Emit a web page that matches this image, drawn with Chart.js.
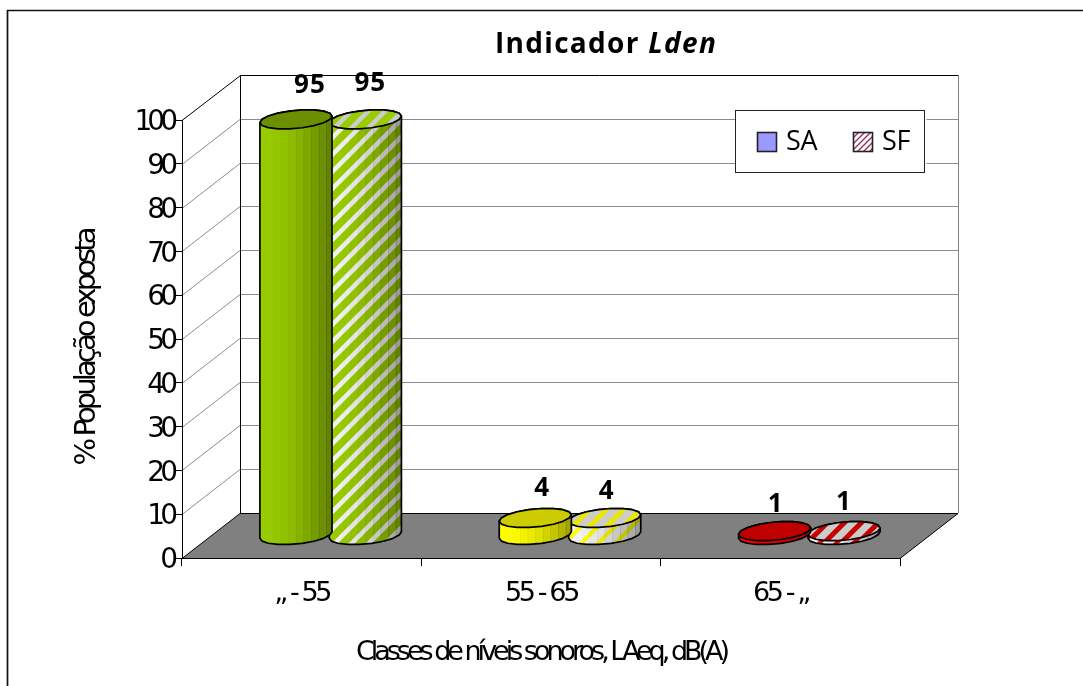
<!DOCTYPE html>
<html><head><meta charset="utf-8">
<style>html,body{margin:0;padding:0;background:#fff}canvas{display:block}</style>
<script src="https://cdn.jsdelivr.net/npm/chart.js@4"></script>
</head><body>
<canvas id="c" width="1083" height="686"></canvas>
<script>
const categories = ['„ - 55', '55 - 65', '65 - „'];
const seriesSA = [95, 4, 1];
const seriesSF = [95, 4, 1];
const pointColors = ['#99CC00', '#FFFF00', '#FF0000'];
const capColors = ['#6B8F00', '#CCCC00', '#C00000'];
const capStripeColors = ['#CCCCCC', '#E8E800', '#C80000'];
const stripeWidths = [4.5, 8, 8];
const legendSwatchSA = '#9999FF';
const legendSwatchSF = '#993366';
const yTicks = [0,10,20,30,40,50,60,70,80,90,100];
const labelNudgeSA = [[14,-34],[7,-29],[1,-27]];
const labelNudgeSF = [[5,-36],[2,-26],[0,-29]];

const depth = {dx:58, dy:-45};
function stripes(ctx,x0,x1,y0,y1,color,lw){
  ctx.save();ctx.strokeStyle=color;ctx.lineWidth=lw;
  const period=17;const h=y1-y0;
  const start=Math.floor((x0-h)/period)*period;
  for(let X=start;X<x1+period;X+=period){
    ctx.beginPath();ctx.moveTo(X,y1);ctx.lineTo(X+h,y0);ctx.stroke();}
  ctx.restore();
}
function ellipsePath(ctx,cx,cy,r,kx,ky,from,to,move){
  const N=9;
  for(let i=0;i<=N;i++){const t=from+(to-from)*i/N;
    const x=cx+r*Math.cos(t)+kx*Math.sin(t),y=cy+ky*Math.sin(t);
    if(i===0&&move)ctx.moveTo(x,y);else ctx.lineTo(x,y);}
}
function cylinder(ctx,el,i,striped){
  const color=pointColors[i];
  const cx=el.x+depth.dx/2, top=el.y+depth.dy/2, base=el.base+depth.dy/2;
  const r=34,kx=12,ky=-9.6;
  const side=Math.sqrt(r*r+kx*kx);
  const a=Math.atan2(kx,r);
  const body=()=>{ctx.beginPath();
    ellipsePath(ctx,cx,base,r,kx,ky,a+Math.PI,a+2*Math.PI,true);
    ellipsePath(ctx,cx,top,r,kx,ky,a,a+Math.PI,false);
    ctx.closePath();};
  const cap=()=>{ctx.beginPath();ellipsePath(ctx,cx,top,r,kx,ky,a,a+Math.PI,true);
    ellipsePath(ctx,cx,top,r,kx,ky,a+Math.PI,a+2*Math.PI,false);ctx.closePath();};
  ctx.save();
  body();
  ctx.save();ctx.clip();
  const L=cx-side-2,W=2*side+4,n=10,T=top-20,H=base-top+40;
  ctx.fillStyle=color;ctx.fillRect(L,T,W,H);
  if(striped) stripes(ctx,L,L+W,T,T+H,'#F2F2F2',stripeWidths[i]);
  ctx.globalCompositeOperation='multiply';
  for(let k=0;k<n;k++){const u=k/(n-1);
    const v=Math.round(255*(1-Math.pow(u,1.8)*0.36));
    ctx.fillStyle=`rgb(${v},${v},${v})`;
    ctx.fillRect(L+W*k/n,T,W/n+0.5,H);}
  ctx.restore();
  ctx.strokeStyle='#000';ctx.lineWidth=1.7;ctx.lineJoin='round';
  body();ctx.stroke();
  cap();
  ctx.save();ctx.clip();
  ctx.fillStyle=striped?color:capColors[i];
  if(striped&&i>0)ctx.fillStyle='#CCCCCC';
  ctx.fillRect(L,top-20,W,40);
  if(striped) stripes(ctx,L,L+W,top-20,top+20,capStripeColors[i],i>0?5:stripeWidths[i]);
  ctx.restore();
  cap();ctx.stroke();
  ctx.restore();
}
function spacing(scale,method,sp,dy){
  const proto=Object.getPrototypeOf(scale)[method];
  scale[method]=function(...args){
    const c=this.ctx,prev=c.letterSpacing;
    c.save();c.letterSpacing=sp;c.translate(0,dy||0);
    proto.apply(this,args);
    c.restore();c.letterSpacing=prev;
  };
}
let patched=false;
const scene={
  id:'scene',
  beforeDraw(chart){
    const {ctx,chartArea:a,scales:{x:xs,y}}=chart;
    if(!patched){patched=true;
      spacing(y,'drawTitle','-3.9px',9);
      spacing(y,'drawLabels','-5px',3);
      spacing(xs,'drawLabels','-3.4px',0);
      spacing(xs,'drawTitle','-4px',2);
    }
    const d=depth;
    ctx.save();
    ctx.fillStyle='#fff';ctx.fillRect(0,0,chart.width,chart.height);
    ctx.strokeStyle='#111';ctx.lineWidth=1.7;
    ctx.beginPath();ctx.moveTo(7.5,686);ctx.lineTo(7.5,10.5);ctx.lineTo(1083,10.5);ctx.stroke();
    ctx.lineWidth=1;
    ctx.strokeStyle='#8C8C8C';
    yTicks.forEach(v=>{ if(v===0||v===100)return;
      const p=Math.round(y.getPixelForValue(v))+.5;
      ctx.beginPath();ctx.moveTo(a.left,p);ctx.lineTo(a.left+d.dx,p+d.dy);ctx.lineTo(a.right+d.dx,p+d.dy);ctx.stroke();});
    const top=y.getPixelForValue(100), bot=y.getPixelForValue(0);
    ctx.strokeStyle='#000';
    ctx.beginPath();ctx.moveTo(a.left,top+.5);ctx.lineTo(a.left+d.dx+.5,top+d.dy+.5);ctx.lineTo(a.right+d.dx,top+d.dy+.5);ctx.stroke();
    ctx.beginPath();ctx.moveTo(a.left+d.dx+.5,top+d.dy);ctx.lineTo(a.left+d.dx+.5,bot+d.dy);ctx.stroke();
    ctx.strokeStyle='#808080';
    ctx.beginPath();ctx.moveTo(a.right+d.dx+.5,top+d.dy);ctx.lineTo(a.right+d.dx+.5,bot+d.dy);ctx.stroke();
    ctx.fillStyle='#808080';ctx.strokeStyle='#000';
    ctx.beginPath();ctx.moveTo(a.left,bot+.5);ctx.lineTo(a.left+d.dx,bot+d.dy+.5);ctx.lineTo(a.right+d.dx,bot+d.dy+.5);ctx.lineTo(a.right,bot+.5);ctx.closePath();ctx.fill();ctx.stroke();
    ctx.restore();
  },
  beforeDatasetDraw(chart,args){
    const {ctx}=chart;
    args.meta.data.forEach((el,i)=>cylinder(ctx,el,i,args.index===1));
    return false;
  },
  afterDatasetsDraw(chart){
    const {ctx}=chart;
    ctx.save();
    ctx.fillStyle='#000';ctx.textAlign='center';ctx.textBaseline='middle';
    ctx.letterSpacing='1px';
    ctx.font='bold 26px "Open Sans"';
    [labelNudgeSA,labelNudgeSF].forEach((nudge,k)=>{
      const ds=chart.data.datasets[k];
      chart.getDatasetMeta(k).data.forEach((el,i)=>{
        ctx.fillText(String(ds.data[i]),el.x+depth.dx/2+nudge[i][0],el.y+depth.dy/2+nudge[i][1]);
      });
    });
    ctx.textAlign='left';ctx.textBaseline='alphabetic';ctx.letterSpacing='1.3px';
    ctx.font='bold 28px "Open Sans"';
    const t1='Indicador ',t2='Lden';
    const w1=ctx.measureText(t1).width;
    ctx.fillText(t1,495,53);
    ctx.font='italic bold 28px "Open Sans"';
    ctx.fillText(t2,495+w1,53);
    ctx.letterSpacing='0px';
    const x=735.5,y=110.5,w=189,h=62;
    ctx.fillStyle='#fff';ctx.fillRect(x,y,w+2,h+1);
    ctx.strokeStyle='#222';ctx.lineWidth=1;ctx.strokeRect(x,y,w,h);
    ctx.lineWidth=1.6;
    ctx.fillStyle=legendSwatchSA;ctx.fillRect(757.5,132.5,19,19);ctx.strokeRect(757.5,132.5,19,19);
    ctx.save();ctx.beginPath();ctx.rect(853.5,132.5,19,19);ctx.clip();
    ctx.fillStyle='#fff';ctx.fillRect(853,132,20,20);
    ctx.strokeStyle=legendSwatchSF;ctx.lineWidth=1.4;
    for(let k=-20;k<24;k+=6){ctx.beginPath();ctx.moveTo(853+k,152);ctx.lineTo(853+k+20,132);ctx.stroke();}
    ctx.restore();
    ctx.strokeStyle='#222';ctx.lineWidth=1.6;ctx.strokeRect(853.5,132.5,19,19);
    ctx.fillStyle='#000';ctx.font='27px "Open Sans"';
    ctx.letterSpacing='-0.3px';
    ctx.fillText(chart.data.datasets[0].label,786,150);
    ctx.fillText(chart.data.datasets[1].label,882,150);
    ctx.restore();
  }
};
new Chart(document.getElementById('c'),{
  type:'bar',
  data:{labels:categories,datasets:[
    {label:'SA',data:seriesSA,backgroundColor:pointColors},
    {label:'SF',data:seriesSF,backgroundColor:pointColors}
  ]},
  options:{
    responsive:false,animation:false,
    devicePixelRatio:1,
    layout:{padding:{left:70,right:183,top:120,bottom:19}},
    plugins:{legend:{display:false},title:{display:false},tooltip:{enabled:false}},
    datasets:{bar:{categoryPercentage:0.58,barPercentage:1}},
    scales:{
      x:{
        grid:{drawOnChartArea:false,drawTicks:true,tickLength:8,color:'#000',offset:true},
        border:{color:'#000'},
        ticks:{color:'#000',padding:12,font:{family:'"DejaVu Sans"',size:27},maxRotation:0},
        title:{display:true,text:'Classes de níveis sonoros, LAeq, dB(A)',color:'#000',font:{family:'"DejaVu Sans"',size:27},padding:0},
        afterFit(s){s.height=109;}
      },
      y:{
        min:0,max:100,
        afterBuildTicks(s){s.ticks=yTicks.map(v=>({value:v}));},
        grid:{drawOnChartArea:false,drawTicks:true,tickLength:7,color:'#000'},
        border:{color:'#000'},
        ticks:{color:'#000',padding:2,font:{family:'"DejaVu Sans"',size:28}},
        title:{display:true,text:'% População exposta',color:'#000',font:{family:'"DejaVu Sans"',size:29},padding:0},
        afterFit(s){s.width=112;}
      }
    }
  },
  plugins:[scene]
});
</script>
</body></html>
